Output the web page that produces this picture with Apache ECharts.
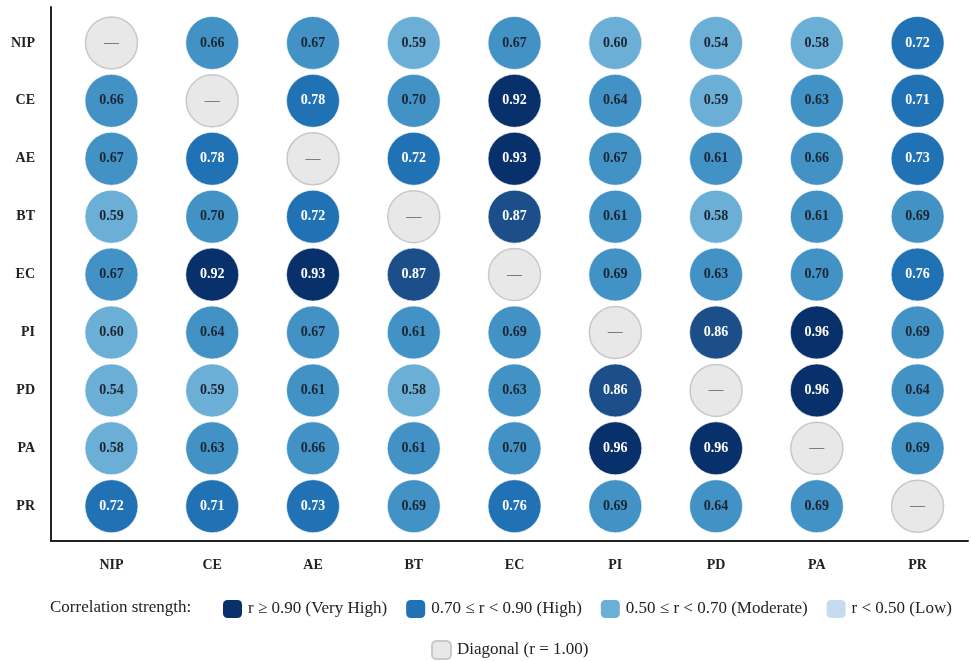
<!DOCTYPE html>
<html>
<head>
<meta charset="utf-8">
<style>
  html, body { margin: 0; padding: 0; background: #ffffff; }
  #chart { width: 971px; height: 661px; }
</style>
<script src="https://cdn.jsdelivr.net/npm/echarts@6/dist/echarts.min.js"></script>
</head>
<body>
<div id="chart"></div>
<script>
// Variables of the correlation matrix
const variables = ['NIP', 'CE', 'AE', 'BT', 'EC', 'PI', 'PD', 'PA', 'PR'];

// Pearson r for each row (null marks the diagonal)
const rowNIP = [null, 0.66, 0.67, 0.59, 0.67, 0.60, 0.54, 0.58, 0.72];
const rowCE  = [0.66, null, 0.78, 0.70, 0.92, 0.64, 0.59, 0.63, 0.71];
const rowAE  = [0.67, 0.78, null, 0.72, 0.93, 0.67, 0.61, 0.66, 0.73];
const rowBT  = [0.59, 0.70, 0.72, null, 0.87, 0.61, 0.58, 0.61, 0.69];
const rowEC  = [0.67, 0.92, 0.93, 0.87, null, 0.69, 0.63, 0.70, 0.76];
const rowPI  = [0.60, 0.64, 0.67, 0.61, 0.69, null, 0.86, 0.96, 0.69];
const rowPD  = [0.54, 0.59, 0.61, 0.58, 0.63, 0.86, null, 0.96, 0.64];
const rowPA  = [0.58, 0.63, 0.66, 0.61, 0.70, 0.96, 0.96, null, 0.69];
const rowPR  = [0.72, 0.71, 0.73, 0.69, 0.76, 0.69, 0.64, 0.69, null];

const matrixRows = [rowNIP, rowCE, rowAE, rowBT, rowEC, rowPI, rowPD, rowPA, rowPR];

// Legend entries and swatch colours
const legendNames = [
  'r \u2265 0.90 (Very High)',
  '0.70 \u2264 r < 0.90 (High)',
  '0.50 \u2264 r < 0.70 (Moderate)',
  'r < 0.50 (Low)'
];
const legendColors = ['#08306b', '#2171b5', '#6baed6', '#c6dbef'];
const diagonalName = 'Diagonal (r = 1.00)';

// Fill colour of a circle from its r value
function fillFor(r) {
  if (r > 0.90) return '#08306b';
  if (r > 0.80) return '#1c4f8a';
  if (r > 0.70) return '#2171b5';
  if (r > 0.60) return '#4292c6';
  if (r > 0.50) return '#6baed6';
  return '#c6dbef';
}

const offDiag = [];
const diag = [];
matrixRows.forEach(function (row, yi) {
  row.forEach(function (r, xi) {
    if (r === null) {
      diag.push([xi, yi]);
    } else {
      offDiag.push({
        value: [xi, yi, r],
        itemStyle: { color: fillFor(r) },
        label: { color: r > 0.70 ? '#ffffff' : '#1b2633' }
      });
    }
  });
});

const serif = '"Liberation Serif", "DejaVu Serif", serif';

function catLabel(v) {
  const k = Math.round(v);
  if (Math.abs(v - k) > 1e-6 || k < 0 || k >= variables.length) return '';
  return variables[k];
}

const chart = echarts.init(document.getElementById('chart'));

const legendSeries = legendNames.map(function (name, i) {
  return {
    name: name,
    type: 'scatter',
    data: [],
    itemStyle: { color: legendColors[i], opacity: 1 }
  };
});

const legendText = { fontFamily: serif, fontSize: 17, color: '#222222', padding: [0, 0, 0, 1] };

chart.setOption({
  animation: false,
  backgroundColor: '#ffffff',
  grid: { left: 51, right: 0, top: 7, bottom: 120, containLabel: false },
  xAxis: {
    type: 'value',
    min: -0.6,
    max: 8.5,
    interval: 0.1,
    splitLine: { show: false },
    axisTick: { show: false },
    axisLine: { show: true, onZero: false, lineStyle: { color: '#222222', width: 2 } },
    axisLabel: {
      formatter: catLabel,
      margin: 17,
      fontFamily: serif,
      fontWeight: 'bold',
      fontSize: 14,
      color: '#222222',
      showMinLabel: true,
      showMaxLabel: true
    }
  },
  yAxis: {
    type: 'value',
    inverse: true,
    min: -0.62,
    max: 8.6,
    interval: 0.02,
    splitLine: { show: false },
    axisTick: { show: false },
    axisLine: { show: true, onZero: false, lineStyle: { color: '#222222', width: 2 } },
    axisLabel: {
      formatter: catLabel,
      margin: 16,
      fontFamily: serif,
      fontWeight: 'bold',
      fontSize: 14,
      color: '#222222'
    }
  },
  legend: [
    {
      data: legendNames,
      left: 218,
      top: 595,
      itemWidth: 19,
      itemHeight: 18,
      itemGap: 19,
      icon: 'roundRect',
      selectedMode: false,
      textStyle: legendText
    },
    {
      data: [diagonalName],
      left: 426,
      top: 635,
      itemWidth: 19,
      itemHeight: 18,
      icon: 'roundRect',
      selectedMode: false,
      textStyle: legendText
    }
  ],
  graphic: [
    {
      type: 'text',
      left: 50,
      top: 599,
      style: {
        text: 'Correlation strength:',
        font: '17px ' + serif,
        fill: '#222222'
      }
    }
  ],
  series: legendSeries.concat([
    {
      name: diagonalName,
      type: 'scatter',
      symbol: 'circle',
      symbolSize: 52,
      data: diag,
      itemStyle: { color: '#e8e8e8', borderColor: '#c8c8c8', borderWidth: 1.5, opacity: 1 },
      label: {
        show: true,
        formatter: '\u2014',
        color: '#5a5a5a',
        fontFamily: serif,
        fontSize: 15
      },
      z: 3
    },
    {
      name: 'correlations',
      type: 'scatter',
      symbol: 'circle',
      symbolSize: 53,
      data: offDiag,
      itemStyle: { borderColor: 'rgba(255,255,255,0.6)', borderWidth: 1, opacity: 1 },
      label: {
        show: true,
        formatter: function (p) { return p.value[2].toFixed(2); },
        fontFamily: serif,
        fontWeight: 'bold',
        fontSize: 14
      },
      z: 3
    }
  ])
});
</script>
</body>
</html>
